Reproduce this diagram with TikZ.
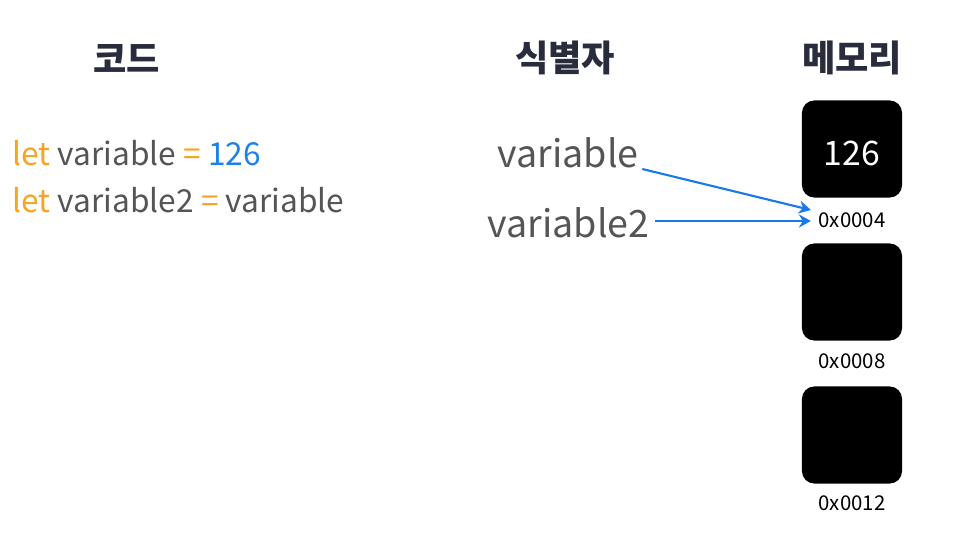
\documentclass[tikz,border=0pt]{standalone}
\usepackage{fontspec}
\setmainfont{Noto Sans CJK KR}
\usepackage{xcolor}
\usetikzlibrary{arrows.meta}
\definecolor{heading}{RGB}{40,44,60}
\definecolor{codegray}{RGB}{85,85,85}
\definecolor{keyword}{RGB}{245,165,35}
\definecolor{numblue}{RGB}{25,130,235}
\definecolor{arrowblue}{RGB}{25,120,235}
\tikzset{
	title/.style={font=\fontsize{10.3pt}{12pt}\selectfont\bfseries, text=heading, inner sep=0pt},
	codeline/.style={font=\fontsize{9pt}{11pt}\selectfont, text=codegray, anchor=base west, inner sep=0pt},
	ident/.style={font=\fontsize{10.7pt}{13pt}\selectfont, text=codegray, anchor=base west, inner sep=0pt},
	cell/.style={fill=black, rounded corners=3.5pt, minimum width=1cm, minimum height=0.97cm, inner sep=0pt, text=white, font=\fontsize{9.6pt}{12pt}\selectfont},
	addr/.style={font=\fontsize{5.8pt}{7pt}\selectfont, text=black, anchor=base, inner sep=0pt},
	ptr/.style={-{Stealth[length=1.2mm,width=1.3mm]}, arrowblue, line width=0.6pt}
}

\begin{document}
\begin{tikzpicture}[x=0.01cm,y=-0.01cm]
		\useasboundingbox (0,0) rectangle (959,539);
		\node[title] (code) at (127,58) {코드};
		\node[title] (names) at (565,58) {식별자};
		\node[title] (mem) at (852,58) {메모리};
		\node[codeline] (line1) at (12,165) {\textcolor{keyword}{let} variable \textcolor{keyword}{=} \textcolor{numblue}{126}};
		\node[codeline] (line2) at (12,212) {\textcolor{keyword}{let} variable2 \textcolor{keyword}{=} variable};
		\node[ident] (var1) at (497,167) {variable};
		\node[ident] (var2) at (487,237) {variable2};
		\node[cell] (cell1) at (852,149) {\raisebox{-1.6mm}[0pt][0pt]{126}};
		\node[cell] (cell2) at (852,292) {};
		\node[cell] (cell3) at (852,435) {};
		\node[addr] (addr1) at (852,227) {0x0004};
		\node[addr] (addr2) at (852,368) {0x0008};
		\node[addr] (addr3) at (852,510) {0x0012};
		\draw[ptr] ([shift={(3,2)}]var1.base east) -- ([shift={(-7,-17)}]addr1.base west);
		\draw[ptr] ([shift={(5,-16)}]var2.base east) -- ([shift={(-7,-6)}]addr1.base west);
	\end{tikzpicture}
\end{document}
